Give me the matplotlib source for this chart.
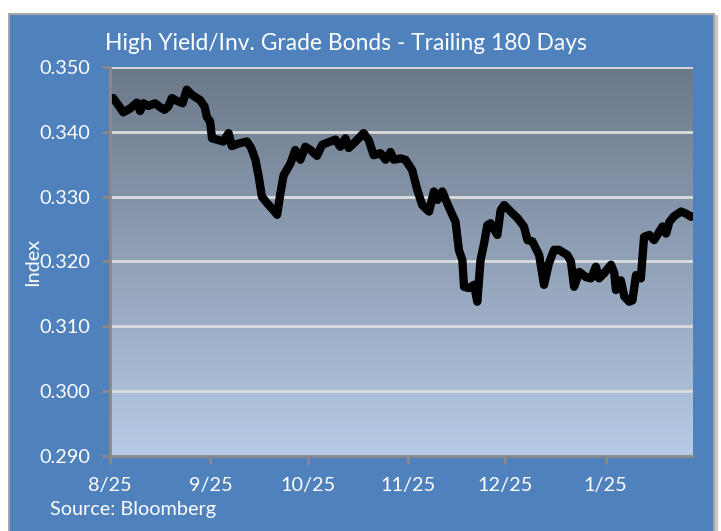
import matplotlib

matplotlib.use("Agg")
import numpy as np
import pandas as pd
from matplotlib import pyplot as plt
from matplotlib.colors import LinearSegmentedColormap
from matplotlib.patches import Rectangle

plt.rcParams["font.family"] = ["Lato", "DejaVu Sans"]

START = pd.Timestamp("2012-08-25")

# days since start, HY/IG ratio
day_offsets = [
    0, 1.0, 2.6, 4.1, 6.2, 8.3, 9.3, 10.3, 11.8, 13.9, 15.5, 16.8, 18.0, 19.1,
    20.6, 22.4, 23.7, 25.3, 27.8, 29.2, 29.9, 30.9, 31.5, 33.0, 35.0, 36.6,
    37.6, 39.7, 42.3, 43.6, 44.9, 45.9, 46.9, 48.5, 50.5, 51.6, 52.6, 53.6,
    55.7, 57.2, 58.8, 60.3, 61.9, 63.9, 65.5, 68.0, 69.6, 71.1, 72.7, 73.7,
    75.8, 78.3, 79.9, 81.4, 83.5, 85.1, 86.6, 87.6, 89.7, 91.2, 93.3, 94.9,
    96.4, 98.5, 100.0, 101.1, 102.6, 104.6, 106.7, 107.7, 108.8, 109.3, 110.8,
    112.4, 113.4, 114.4, 115.5, 116.5, 117.5, 119.6, 120.6, 121.7, 123.7,
    125.8, 127.8, 128.9, 130.4, 132.5, 134.0, 135.5, 137.1, 138.6, 141.2,
    142.3, 143.3, 144.9, 146.9, 148.5, 150.0, 151.0, 152.6, 154.7, 155.7,
    156.2, 157.7, 158.8, 160.3, 161.3, 162.4, 163.9, 164.9, 166.5, 168.0,
    169.6, 170.6, 171.7, 172.7, 174.2, 176.3, 177.8, 179.4, 180.0,
]
ratio = [
    0.3452, 0.3452, 0.3441, 0.3430, 0.3436, 0.3445, 0.3432, 0.3444, 0.3440,
    0.3444, 0.3438, 0.3434, 0.3439, 0.3452, 0.3448, 0.3444, 0.3465, 0.3457,
    0.3449, 0.3439, 0.3423, 0.3416, 0.3390, 0.3388, 0.3385, 0.3398, 0.3378,
    0.3382, 0.3385, 0.3375, 0.3357, 0.3331, 0.3300, 0.3290, 0.3279, 0.3272,
    0.3305, 0.3333, 0.3351, 0.3372, 0.3357, 0.3377, 0.3372, 0.3363, 0.3380,
    0.3385, 0.3388, 0.3377, 0.3390, 0.3375, 0.3385, 0.3398, 0.3387, 0.3364,
    0.3367, 0.3357, 0.3369, 0.3357, 0.3359, 0.3357, 0.3341, 0.3310, 0.3287,
    0.3277, 0.3308, 0.3295, 0.3308, 0.3284, 0.3261, 0.3218, 0.3202, 0.3161,
    0.3159, 0.3164, 0.3138, 0.3202, 0.3228, 0.3256, 0.3259, 0.3241, 0.3279,
    0.3287, 0.3277, 0.3267, 0.3254, 0.3233, 0.3231, 0.3210, 0.3164, 0.3197,
    0.3218, 0.3218, 0.3210, 0.3200, 0.3161, 0.3184, 0.3176, 0.3174, 0.3192,
    0.3174, 0.3182, 0.3195, 0.3182, 0.3156, 0.3171, 0.3146, 0.3138, 0.3140,
    0.3179, 0.3174, 0.3238, 0.3241, 0.3233, 0.3246, 0.3254, 0.3243, 0.3261,
    0.3270, 0.3277, 0.3274, 0.3269, 0.3270,
]

tick_dates = ["2012-08-25", "2012-09-25", "2012-10-25", "2012-11-25",
              "2012-12-25", "2013-01-25"]
tick_labels = ["8/25", "9/25", "10/25", "11/25", "12/25", "1/25"]
y_ticks = [0.290, 0.300, 0.310, 0.320, 0.330, 0.340, 0.350]

PANEL = "#4f81bd"
TEXT = "white"

dates = START + pd.to_timedelta(day_offsets, unit="D")

fig = plt.figure(figsize=(7.21, 5.31), dpi=100)
fig.patch.set_facecolor("white")

# blue chart panel with a soft shadow, kept behind the axes
fig.patches.append(Rectangle((12 / 721, -0.01), 706 / 721, 1 - 10 / 531,
                             transform=fig.transFigure, facecolor="#c8c8c8",
                             edgecolor="none", zorder=-2))
fig.patches.append(Rectangle((9 / 721, -0.01), 705 / 721, 1 - 9 / 531,
                             transform=fig.transFigure, facecolor=PANEL,
                             edgecolor="#a6a6a6", linewidth=1.5, zorder=-1))

ax = fig.add_axes([110 / 721, 1 - 456 / 531, 583 / 721, 389 / 531])
ax.set_facecolor("none")

grad = LinearSegmentedColormap.from_list("plotbg", ["#b7cbe6", "#6b7889"])
ax.imshow(np.linspace(0, 1, 256).reshape(-1, 1), cmap=grad, origin="lower",
          extent=[0, 1, 0, 1], transform=ax.transAxes, aspect="auto", zorder=0)

ax.plot(dates, ratio, color="black", linewidth=6,
        solid_joinstyle="round", solid_capstyle="round", zorder=3)

ax.set_xlim(START, START + pd.Timedelta(days=180))
ax.set_ylim(0.290, 0.350)
ax.set_yticks(y_ticks)
ax.set_yticklabels([f"{v:.3f}" for v in y_ticks])
ax.set_xticks(pd.to_datetime(tick_dates))
ax.set_xticklabels(tick_labels)

ax.grid(axis="y", color="#dcdcdc", linewidth=2, zorder=1)
ax.set_axisbelow(False)
for name in ("top", "right"):
    ax.spines[name].set_visible(False)
for name in ("left", "bottom"):
    ax.spines[name].set_color("#8a8a8a")
    ax.spines[name].set_linewidth(2)
    ax.spines[name].set_zorder(4)

ax.tick_params(axis="both", colors="#8a8a8a", width=2, length=6,
               labelcolor=TEXT, labelsize=14.3)
ax.tick_params(axis="x", pad=9)
ax.tick_params(axis="y", pad=8)

ax.set_ylabel("Index", color=TEXT, fontsize=14.3)
ax.yaxis.set_label_coords(-0.118, 0.5)

fig.text(105 / 721, 1 - 43 / 531, "High Yield/Inv. Grade Bonds - Trailing 180 Days",
         color=TEXT, fontsize=16.4, va="center", ha="left")
fig.text(50 / 721, 1 - 510 / 531, "Source: Bloomberg", color=TEXT,
         fontsize=14.3, va="center", ha="left")

fig.savefig("out.png", dpi=100)
